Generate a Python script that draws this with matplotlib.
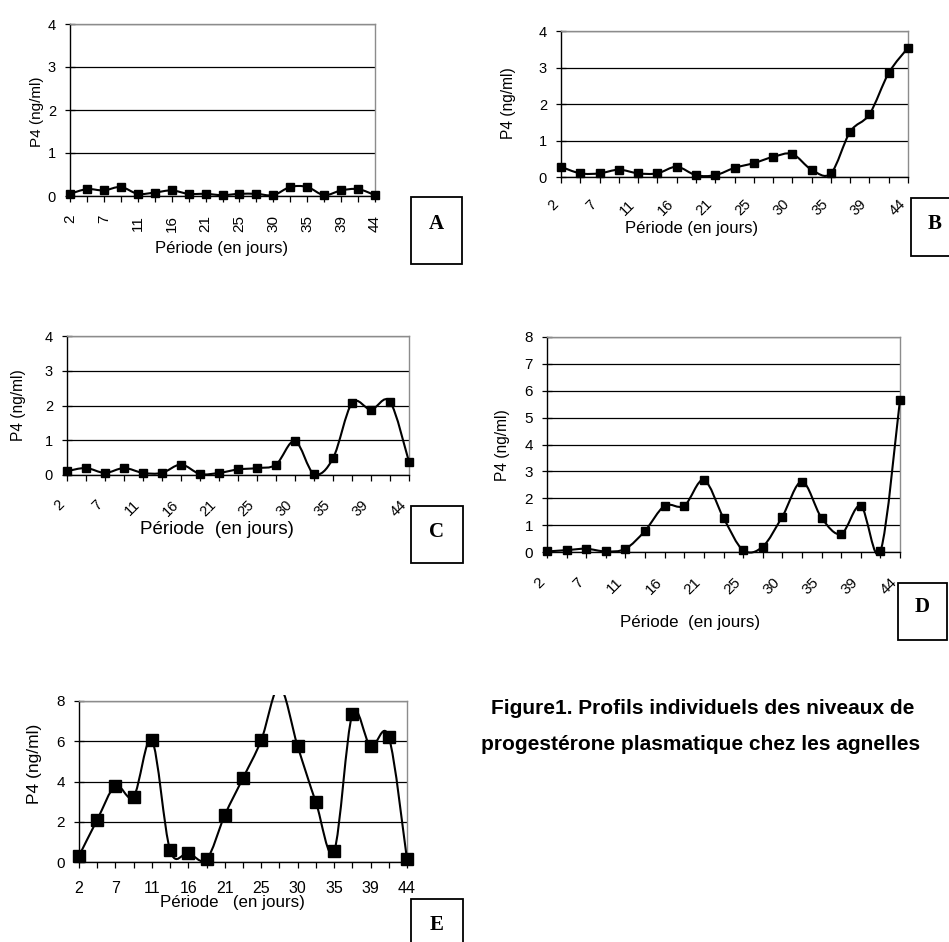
import numpy as np
import matplotlib
matplotlib.use("Agg")
import matplotlib.pyplot as plt
from matplotlib.path import Path
from matplotlib.patches import PathPatch, Rectangle
from matplotlib.transforms import ScaledTranslation, Bbox, TransformedBbox

plt.rcParams["font.family"] = ["Liberation Sans", "DejaVu Sans"]

# Sampling days (every other sample is labelled on the axis)
tick_labels = ["2", "7", "11", "16", "21", "25", "30", "35", "39", "44"]
n_samples = 19

# Plasma progesterone (ng/ml) for each ewe lamb
p4_a = [0.05, 0.16, 0.13, 0.21, 0.05, 0.08, 0.13, 0.05, 0.05, 0.02,
        0.05, 0.05, 0.02, 0.21, 0.21, 0.02, 0.13, 0.16, 0.02]
p4_b = [0.28, 0.10, 0.10, 0.20, 0.10, 0.10, 0.28, 0.05, 0.05, 0.25,
        0.38, 0.55, 0.63, 0.20, 0.10, 1.24, 1.72, 2.85, 3.54]
p4_c = [0.11, 0.20, 0.06, 0.20, 0.06, 0.06, 0.30, 0.03, 0.06, 0.16,
        0.20, 0.30, 0.98, 0.03, 0.48, 2.07, 1.88, 2.11, 0.38]
p4_d = [0.02, 0.07, 0.12, 0.02, 0.12, 0.79, 1.72, 1.72, 2.68, 1.27,
        0.07, 0.20, 1.32, 2.62, 1.27, 0.67, 1.72, 0.02, 5.67]
p4_e = [0.30, 2.10, 3.78, 3.25, 6.05, 0.58, 0.45, 0.13, 2.33, 4.17,
        6.05, 8.70, 5.75, 2.97, 0.55, 7.33, 5.75, 6.22, 0.13]

W, H = 949, 942
fig = plt.figure(figsize=(W / 100, H / 100), dpi=100)


def fx(px):
    return px / W


def fy(py):
    return 1 - py / H


def smooth_path(xs, ys):
    """Cubic Bezier through the points (spreadsheet-style smoothed line)."""
    pts = np.column_stack([xs, ys]).astype(float)
    n = len(pts)
    verts = [pts[0]]
    codes = [Path.MOVETO]
    for i in range(n - 1):
        p_prev = pts[i - 1] if i > 0 else pts[i]
        p_next = pts[i + 2] if i + 2 < n else pts[i + 1]
        c1 = pts[i] + (pts[i + 1] - p_prev) / 6.0
        c2 = pts[i + 1] - (p_next - pts[i]) / 6.0
        verts += [c1, c2, pts[i + 1]]
        codes += [Path.CURVE4] * 3
    return Path(verts, codes)


def panel(rect, values, ymax, ystep, rot, xoff, tick_fs, ytick_fs, lab_fs,
          ms, xlabel, xlab_pos, xlab_fs, ylab_pos, xpad, box, letter_pos,
          letter, top_extra=0):
    l, t, r, b = rect
    ax = fig.add_axes([fx(l), fy(b), (r - l) / W, (b - t) / H])
    x = np.arange(n_samples)
    ax.set_xlim(0, n_samples - 1)
    ax.set_ylim(0, ymax)

    clip = TransformedBbox(
        Bbox.from_extents(-0.05, -0.2, 1.05, 1 + top_extra / (b - t)),
        ax.transAxes)
    patch = PathPatch(smooth_path(x, values), facecolor="none",
                      edgecolor="black", lw=1.5, zorder=3)
    ax.add_patch(patch)
    patch.set_clip_box(clip)
    patch.set_clip_path(None)

    vals = np.asarray(values)
    shown = vals <= ymax
    ax.plot(x[shown], vals[shown], ls="none", marker="s", ms=ms,
            color="black", clip_on=False, zorder=4)

    yt = np.arange(0, ymax + 0.001, ystep)
    ax.set_yticks(yt)
    ax.set_yticklabels([f"{v:g}" for v in yt], fontsize=ytick_fs)
    ax.yaxis.grid(True, color="black", lw=0.9)
    ax.set_axisbelow(True)

    ax.set_xticks(x[::2])
    ax.set_xticks(x, minor=True)
    if rot == 90:
        ax.set_xticklabels(tick_labels, rotation=90, fontsize=tick_fs,
                           ha="center", va="top")
    elif rot == 45:
        ax.set_xticklabels(tick_labels, rotation=45, fontsize=tick_fs,
                           ha="right", va="top")
        for lab in ax.get_xticklabels():
            lab.set_transform(lab.get_transform() +
                              ScaledTranslation(xoff / 100, 0,
                                                fig.dpi_scale_trans))
    else:
        ax.set_xticklabels(tick_labels, fontsize=tick_fs)
    ax.tick_params(axis="x", which="both", direction="out", length=4.5,
                   width=0.9, color="black", pad=xpad)
    ax.tick_params(axis="y", direction="inout", length=6.5, width=0.9,
                   pad=6.8)

    for side in ("left", "bottom"):
        ax.spines[side].set_color("black")
        ax.spines[side].set_linewidth(1.0)
    for side in ("top", "right"):
        ax.spines[side].set_color("#8c8c8c")
        ax.spines[side].set_linewidth(1.0)

    fig.text(fx(ylab_pos[0]), fy(ylab_pos[1]), "P4 (ng/ml)", rotation=90,
             ha="center", va="center", fontsize=lab_fs)
    fig.text(fx(xlab_pos[0]), fy(xlab_pos[1]), xlabel, ha="center",
             va="center", fontsize=xlab_fs)

    bl, bt, br, bb = box
    fig.patches.append(Rectangle((fx(bl), fy(bb)), (br - bl) / W,
                                 (bb - bt) / H, transform=fig.transFigure,
                                 facecolor="white", edgecolor="black",
                                 lw=1.3))
    fig.text(fx(letter_pos[0]), fy(letter_pos[1]), letter, ha="center",
             va="center", fontsize=15, fontweight="bold",
             family=["Liberation Serif", "DejaVu Serif"])
    return ax


# A
panel((70, 24, 375, 196), p4_a, 4, 1, 90, 0, 11, 10.5, 11, 5.5,
      "Période (en jours)", (222, 248), 12, (37, 112), 9,
      (411, 197, 462, 264), (436, 224), "A")
# B
panel((561, 31, 908, 177), p4_b, 4, 1, 45, -10, 10.5, 10.5, 11.2, 6,
      "Période (en jours)", (692, 228), 12, (508, 103), 10,
      (911, 198, 960, 256), (935, 224), "B")
# C
panel((67, 336, 409, 475), p4_c, 4, 1, 45, -11, 10.5, 10.5, 11.2, 6,
      "Période  (en jours)", (217, 529), 13.5, (19, 405), 12,
      (411, 506, 463, 563), (437, 532), "C")
# D
panel((547, 337, 900, 552), p4_d, 8, 1, 45, -11, 11, 11, 11.2, 6,
      "Période  (en jours)", (690, 622), 12.2, (503, 445), 12,
      (898, 583, 947, 640), (922, 607), "D")
# E
panel((79, 701, 407, 862), p4_e, 8, 2, 0, 0, 11.5, 11, 12.5, 8.5,
      "Période   (en jours)", (232, 902), 12.2, (35, 764), 9,
      (411, 899, 463, 960), (437, 925), "E", top_extra=6)

fig.text(fx(703), fy(708), "Figure1. Profils individuels des niveaux de",
         ha="center", va="center", fontsize=15, fontweight="bold")
fig.text(fx(701), fy(745), "progestérone plasmatique chez les agnelles",
         ha="center", va="center", fontsize=15, fontweight="bold")

fig.savefig("out.png", dpi=100)
